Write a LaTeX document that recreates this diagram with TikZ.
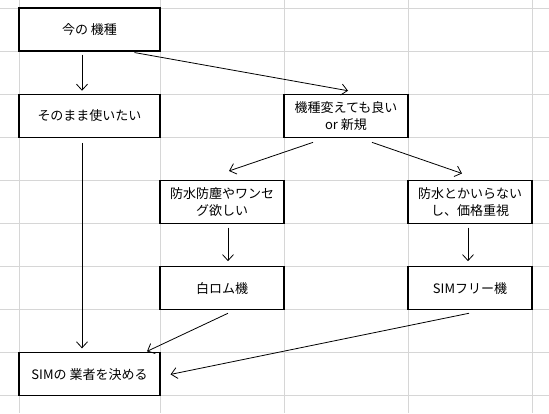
\documentclass[tikz,border=0pt]{standalone}
\usepackage{fontspec}
\newfontfamily\jpfont{Noto Sans CJK JP}
\usetikzlibrary{arrows.meta}
\definecolor{gridgray}{RGB}{214,214,214}
\tikzset{
  cell/.style={draw, fill=white, line width=1.1pt, minimum width=124pt, minimum height=43pt,
    inner sep=0pt, align=center, font=\jpfont\fontsize{13}{17}\selectfont},
  widecell/.style={cell, minimum width=141pt},
  flow/.style={line width=0.8pt, -{Straight Barb[length=6pt,width=11pt]}}
}
\begin{document}
\begin{tikzpicture}[x=1pt,y=-1pt]
		\useasboundingbox (0,0) rectangle (549,413);
		\fill[white] (0,0) rectangle (549,413);

		% draw the grid
		\foreach \gx in {19,160,284,408,532}
			\draw[gridgray, line width=0.9pt] (\gx,0) -- (\gx,413);
		\foreach \k in {0,...,9}
			\draw[gridgray, line width=0.9pt] (0,8+43.1*\k) -- (549,8+43.1*\k);

		% the boxes
		\node[widecell] (now) at (89.5,29.5) {今の 機種};
		\node[widecell] (keep) at (89.5,115.8) {そのまま使いたい};
		\node[cell] (change) at (346,115.8) {機種変えても良い\\or 新規};
		\node[cell] (water) at (222,202) {防水防塵やワンセ\\グ欲しい};
		\node[cell] (cheap) at (470,202) {防水とかいらない\\し、価格重視};
		\node[cell] (white) at (222,288.2) {白ロム機};
		\node[cell] (simfree) at (470,288.2) {SIMフリー機};
		\node[widecell] (decide) at (89.5,374.4) {SIMの 業者を決める};

		% draw the arrows
		\draw[flow] ([xshift=-7.5pt,yshift=-3pt]now.south) -- ([xshift=-7.5pt,yshift=3pt]keep.north);
		\draw[flow] ([xshift=45pt,yshift=-1pt]now.south) -- ([xshift=2pt,yshift=3pt]change.north);
		\draw[flow] ([xshift=-7.5pt,yshift=-5pt]keep.south) -- ([xshift=-7.5pt,yshift=4pt]decide.north);
		\draw[flow] ([xshift=-33pt,yshift=-4.5pt]change.south) -- ([xshift=7pt,yshift=9pt]water.north);
		\draw[flow] ([xshift=26pt,yshift=-4.5pt]change.south) -- ([xshift=-8pt,yshift=6.5pt]cheap.north);
		\draw[flow] ([xshift=6pt,yshift=-3.5pt]water.south) -- ([xshift=6pt,yshift=5pt]white.north);
		\draw[flow] ([xshift=-2pt,yshift=-3.5pt]cheap.south) -- ([xshift=-2pt,yshift=5pt]simfree.north);
		\draw[flow] ([xshift=6pt,yshift=-3pt]white.south) -- ([xshift=57.5pt,yshift=1pt]decide.north);
		\draw[flow] ([xshift=-1pt,yshift=-3pt]simfree.south) -- ([xshift=10pt]decide.east);

\end{tikzpicture}
\end{document}
